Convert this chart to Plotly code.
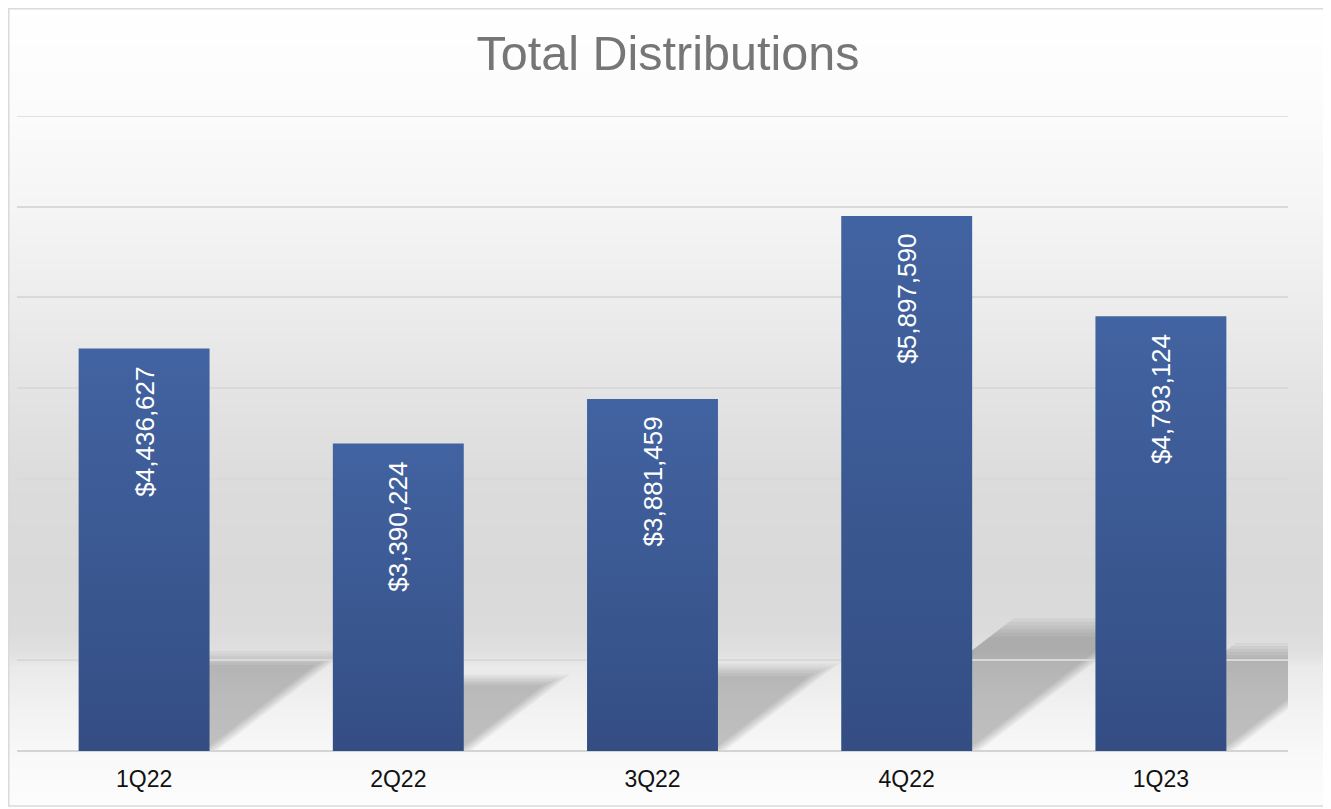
import plotly.graph_objects as go

# ---- data ----
categories = ["1Q22", "2Q22", "3Q22", "4Q22", "1Q23"]
distributions = [4436627, 3390224, 3881459, 5897590, 4793124]
value_labels = ["$4,436,627", "$3,390,224", "$3,881,459", "$5,897,590", "$4,793,124"]
title_text = "Total Distributions"

# ---- layout geometry (screen pixels; page body has an 8px margin) ----
OFF = 8
SW, SH = 1331, 809
W, H = SW - OFF, SH - OFF
PX0, PX1, PY0, PY1 = 17, 1288, 116, 751      # plot area on screen
L, R, T, B = PX0 - OFF, SW - PX1, PY0 - OFF, SH - PY1
PW, PH = PX1 - PX0, PY1 - PY0
YMAX = 7_000_000
BAR_W = 0.515


def px_x(px):
    return (px - PX0) / PW


def px_y(py):
    return (PY1 - py) / PH


def grey(v):
    v = int(round(v))
    return f"rgb({v},{v},{v})"


# background vertical gradient (screen y, grey level)
bg_stops = [(0, 255), (116, 251), (206, 245), (297, 237), (387, 228), (478, 220),
            (570, 217), (630, 219), (652, 224), (668, 234), (705, 241), (751, 248),
            (809, 253)]


def bg_level(y):
    for (y0, c0), (y1, c1) in zip(bg_stops[:-1], bg_stops[1:]):
        if y0 <= y <= y1:
            return c0 + (c1 - c0) * (y - y0) / (y1 - y0)
    return bg_stops[-1][1]


shapes = []
step = 3
for y in range(0, SH, step):
    shapes.append(dict(type="rect", xref="paper", yref="paper",
                       x0=px_x(0), x1=px_x(SW + 5), y0=px_y(y + step + 0.5), y1=px_y(y),
                       fillcolor=grey(bg_level(y + step / 2)), line=dict(width=0),
                       layer="below"))

# outer border
shapes.append(dict(type="rect", xref="paper", yref="paper",
                   x0=px_x(OFF + 0.75), x1=px_x(SW + 3), y0=px_y(806), y1=px_y(OFF + 0.75),
                   fillcolor="rgba(0,0,0,0)", line=dict(color="#dadada", width=1.5),
                   layer="below"))

# soft cast shadows of bars on the floor
SH_FRAC = 0.23
SLOPE = 1.3
for i, v in enumerate(distributions):
    h = SH_FRAC * v
    hpx = h * PH / YMAX
    dx = SLOPE * hpx / (PW / len(categories))
    w = BAR_W / 2
    for grow in [0.08, 0.05, 0.02, -0.01, -0.04, -0.07]:
        hh = h * (1 + grow)
        dd = dx * (1 + grow)
        g = grow * 0.35
        path = (f"M {i - w} 0 L {i + w + g} 0 L {i + w + dd + g} {hh} "
                f"L {i - w + dd} {hh} Z")
        shapes.append(dict(type="path", xref="x", yref="y", path=path,
                           fillcolor="rgba(0,0,0,0.04)", line=dict(width=0),
                           layer="below"))

# top gridline (7M) at the plot edge
shapes.append(dict(type="line", xref="paper", yref="y", x0=0, x1=1, y0=YMAX, y1=YMAX,
                   line=dict(color="#d9d9d9", width=1.5), layer="below"))

fig = go.Figure()

for i, v in enumerate(distributions):
    w = BAR_W / 2
    fig.add_trace(go.Scatter(
        x=[i - w, i + w, i + w, i - w, i - w],
        y=[0, 0, v, v, 0],
        mode="lines", line=dict(width=0), fill="toself",
        fillgradient=dict(type="vertical",
                          colorscale=[[0, "#344e84"], [1, "#4263a1"]]),
        hoverinfo="skip", showlegend=False,
    ))

annotations = []
for i, (v, lab) in enumerate(zip(distributions, value_labels)):
    annotations.append(dict(x=i, y=v, xref="x", yref="y", text=lab, showarrow=False,
                            textangle=-90, yanchor="top", xanchor="center", yshift=-16,
                            font=dict(family="Liberation Sans, Arial", size=26,
                                      color="white")))

fig.update_layout(
    width=W, height=H,
    margin=dict(l=L, r=R, t=T, b=B, pad=0),
    paper_bgcolor="white",
    plot_bgcolor="rgba(0,0,0,0)",
    title=dict(text=title_text, x=(668 - OFF) / W, xanchor="center", xref="container",
               y=1 - (53 - OFF) / H, yanchor="middle", yref="container",
               font=dict(family="Liberation Sans, Arial", size=48.5, color="#767676")),
    xaxis=dict(range=[-0.5, len(categories) - 0.5], tickvals=list(range(len(categories))),
               ticktext=categories, showgrid=False, zeroline=False, showline=False,
               ticks="", ticklabelstandoff=12,
               tickfont=dict(family="Liberation Sans, Arial", size=23, color="#111111"),
               fixedrange=True),
    yaxis=dict(range=[0, YMAX], dtick=1_000_000, showgrid=True, gridcolor="#d9d9d9",
               gridwidth=1.5, zeroline=True, zerolinecolor="#d4d4d4", zerolinewidth=2,
               showticklabels=False, ticks="", showline=False, fixedrange=True),
    shapes=shapes,
    annotations=annotations,
    showlegend=False,
)

fig.write_html("out.html")
